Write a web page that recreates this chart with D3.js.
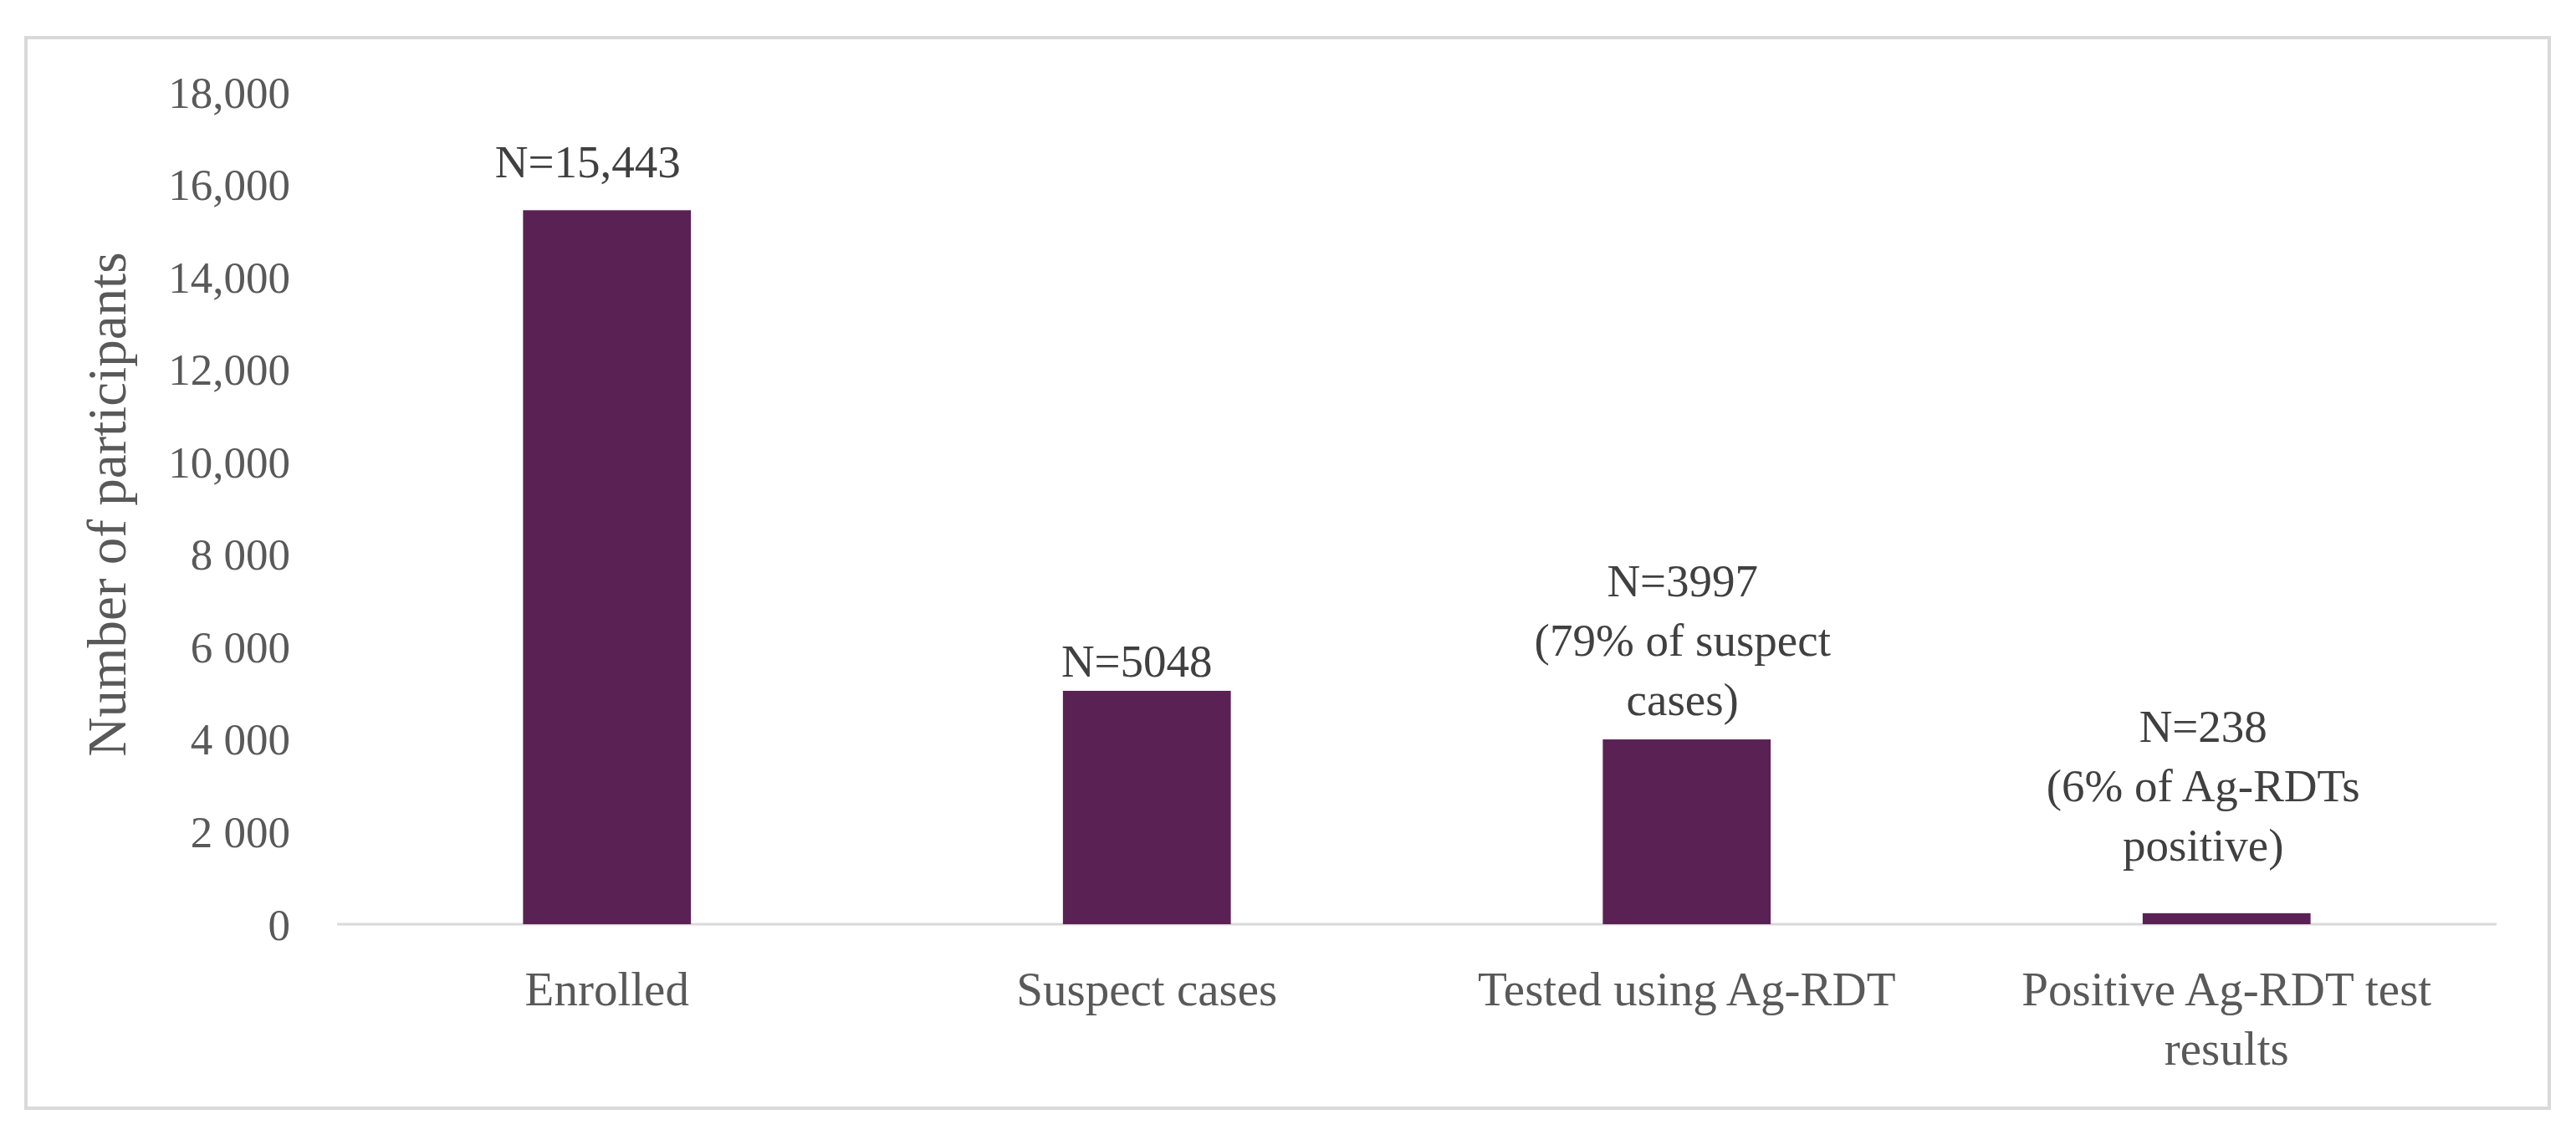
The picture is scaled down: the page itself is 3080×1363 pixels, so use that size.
<!DOCTYPE html>
<html>
<head>
<meta charset="utf-8">
<script src="https://cdn.jsdelivr.net/npm/d3@7"></script>
<style>
  html, body { margin: 0; padding: 0; background: #ffffff; }
  svg { display: block; }
  text { font-family: "Liberation Serif", "DejaVu Serif", serif; }
</style>
</head>
<body>
<svg id="chart" width="3080" height="1363"></svg>
<script>
// ---- data ----
const categories = ["Enrolled", "Suspect cases", "Tested using Ag-RDT", "Positive Ag-RDT test results"];
const categoryLines = [["Enrolled"], ["Suspect cases"], ["Tested using Ag-RDT"], ["Positive Ag-RDT test", "results"]];
const values = [15443, 5048, 3997, 238];
const valueLabels = [
  ["N=15,443"],
  ["N=5048"],
  ["N=3997", "(79% of suspect", "cases)"],
  ["N=238", "(6% of Ag-RDTs", "positive)"]
];
const tickValues = [0, 2000, 4000, 6000, 8000, 10000, 12000, 14000, 16000, 18000];
const tickLabels = ["0", "2 000", "4 000", "6 000", "8 000", "10,000", "12,000", "14,000", "16,000", "18,000"];
const yTitle = "Number of participants";

// ---- layout (style, not data) ----
const labelGaps = [39, 17, 29, 63];   // gap between last label baseline and bar top
const labelDx = [-23, -12, -5, -28];  // manual horizontal nudges of the data labels
const lineH = 71;
const barColor = "#5a2155";

const svg = d3.select("#chart");

// frame
svg.append("rect")
  .attr("x", 31).attr("y", 45)
  .attr("width", 3017).attr("height", 1280)
  .attr("fill", "#ffffff")
  .attr("stroke", "#d9d9d9").attr("stroke-width", 4);

const x = d3.scaleBand()
  .domain(categories)
  .range([403, 2985])
  .paddingInner(0.689)
  .paddingOuter(0.3445);

const y = d3.scaleLinear()
  .domain([0, 18000])
  .range([1105, 110]);

// y tick labels via axis
const yAxis = d3.axisLeft(y)
  .tickValues(tickValues)
  .tickFormat((d, i) => tickLabels[i])
  .tickSize(0)
  .tickPadding(0);

const gy = svg.append("g")
  .attr("transform", "translate(347,0)")
  .call(yAxis);
gy.select(".domain").remove();
gy.selectAll("text")
  .attr("font-family", "Liberation Serif")
  .attr("font-size", 53)
  .attr("fill", "#595959")
  .attr("dy", "0.34em");

// baseline
svg.append("line")
  .attr("x1", 403).attr("x2", 2985)
  .attr("y1", y(0)).attr("y2", y(0))
  .attr("stroke", "#d9d9d9").attr("stroke-width", 3);

// bars
svg.append("g").selectAll("rect")
  .data(values)
  .join("rect")
  .attr("x", (d, i) => x(categories[i]))
  .attr("width", x.bandwidth())
  .attr("y", d => y(d))
  .attr("height", d => y(0) - y(d))
  .attr("fill", barColor);

// data labels
const dl = svg.append("g");
values.forEach((v, i) => {
  const lines = valueLabels[i];
  const cx = x(categories[i]) + x.bandwidth() / 2 + labelDx[i];
  const lastBase = y(v) - labelGaps[i];
  lines.forEach((t, j) => {
    dl.append("text")
      .attr("x", cx)
      .attr("y", lastBase - (lines.length - 1 - j) * lineH)
      .attr("text-anchor", "middle")
      .attr("font-size", 55)
      .attr("fill", "#404040")
      .text(t);
  });
});

// x category labels
const xl = svg.append("g");
categories.forEach((c, i) => {
  const cx = x(c) + x.bandwidth() / 2;
  categoryLines[i].forEach((t, j) => {
    xl.append("text")
      .attr("x", cx)
      .attr("y", 1202 + j * lineH)
      .attr("text-anchor", "middle")
      .attr("font-size", 57)
      .attr("fill", "#595959")
      .text(t);
  });
});

// y title
svg.append("text")
  .attr("transform", "translate(150,603) rotate(-90)")
  .attr("text-anchor", "middle")
  .attr("font-size", 65)
  .attr("fill", "#595959")
  .text(yTitle);
</script>
</body>
</html>
